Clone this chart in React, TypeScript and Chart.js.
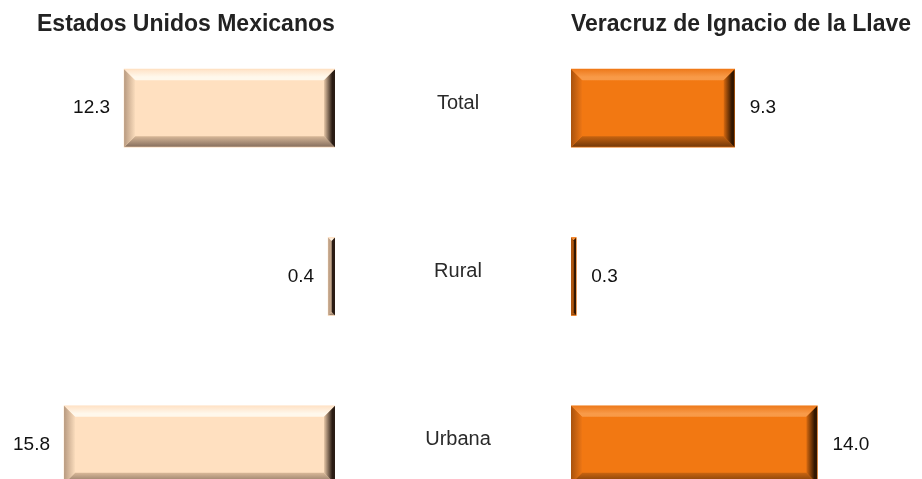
import React, { useEffect, useRef } from "react";
import { Chart, registerables } from "chart.js";

Chart.register(...registerables);

const categories = ["Total", "Rural", "Urbana"];
const nacionalValues = [12.3, 0.4, 15.8];
const veracruzValues = [9.3, 0.3, 14.0];
const leftTitle = "Estados Unidos Mexicanos";
const rightTitle = "Veracruz de Ignacio de la Llave";

const FONT = '"Liberation Sans", Arial, sans-serif';

type Palette = {
  base: string;
  topOuter: string;
  topInner: string;
  leftOuter: string;
  leftInner: string;
  rightInner: string;
  rightOuter: string;
  bottomInner: string;
  bottomOuter: string;
};

const peach: Palette = {
  base: "#FFE0C0",
  topOuter: "#FFE2C6",
  topInner: "#FFF8EC",
  leftOuter: "#B89A80",
  leftInner: "#FADCBC",
  rightInner: "#E8C8A8",
  rightOuter: "#2A1C14",
  bottomInner: "#D8B898",
  bottomOuter: "#8C7462",
};

const orange: Palette = {
  base: "#F27812",
  topOuter: "#EE7A1C",
  topInner: "#F89A48",
  leftOuter: "#A8520E",
  leftInner: "#EE7614",
  rightInner: "#D86A10",
  rightOuter: "#321600",
  bottomInner: "#C86410",
  bottomOuter: "#7A3C0A",
};

function bevelPlugin(pal: Palette, side: "left" | "right", showCats: boolean) {
  return {
    id: "bevel" + side,
    afterDatasetsDraw(chart: any) {
      const ctx = chart.ctx as CanvasRenderingContext2D;
      const meta = chart.getDatasetMeta(0);
      const values = chart.data.datasets[0].data as number[];
      meta.data.forEach((bar: any, i: number) => {
        const { x, y, base, height } = bar.getProps(["x", "y", "base", "height"], true);
        const x0 = Math.min(x, base);
        const x1 = Math.max(x, base);
        const y0 = y - height / 2;
        const y1 = y + height / 2;
        const w = x1 - x0;
        const h = y1 - y0;
        const B = 11;
        const b = Math.min(B, w / 2, h / 2);
        ctx.save();
        ctx.beginPath();
        ctx.rect(x0, y0, w, h);
        ctx.clip();
        // top
        let g = ctx.createLinearGradient(0, y0, 0, y0 + b);
        g.addColorStop(0, pal.topOuter);
        g.addColorStop(0.7, pal.topInner);
        g.addColorStop(1, pal.topInner);
        ctx.fillStyle = g;
        ctx.beginPath();
        ctx.moveTo(x0, y0);
        ctx.lineTo(x1, y0);
        ctx.lineTo(x1 - b, y0 + b);
        ctx.lineTo(x0 + b, y0 + b);
        ctx.closePath();
        ctx.fill();
        // bottom
        g = ctx.createLinearGradient(0, y1 - b, 0, y1);
        g.addColorStop(0, pal.bottomInner);
        g.addColorStop(0.9, pal.bottomOuter);
        g.addColorStop(1, pal.bottomInner);
        ctx.fillStyle = g;
        ctx.beginPath();
        ctx.moveTo(x0, y1);
        ctx.lineTo(x1, y1);
        ctx.lineTo(x1 - b, y1 - b);
        ctx.lineTo(x0 + b, y1 - b);
        ctx.closePath();
        ctx.fill();
        // left (gradient always spans full bevel width B)
        g = ctx.createLinearGradient(x0, 0, x0 + B, 0);
        g.addColorStop(0, pal.leftOuter);
        g.addColorStop(1, pal.leftInner);
        ctx.fillStyle = g;
        ctx.beginPath();
        ctx.moveTo(x0, y0);
        ctx.lineTo(x0 + b, y0 + b);
        ctx.lineTo(x0 + b, y1 - b);
        ctx.lineTo(x0, y1);
        ctx.closePath();
        ctx.fill();
        // right
        g = ctx.createLinearGradient(x1 - B, 0, x1, 0);
        g.addColorStop(0, pal.rightInner);
        g.addColorStop(0.75, pal.rightOuter);
        g.addColorStop(1, pal.rightOuter);
        ctx.fillStyle = g;
        ctx.beginPath();
        ctx.moveTo(x1, y0);
        ctx.lineTo(x1 - b, y0 + b);
        ctx.lineTo(x1 - b, y1 - b);
        ctx.lineTo(x1, y1);
        ctx.closePath();
        ctx.fill();
        ctx.restore();

        // value label
        ctx.save();
        ctx.font = `19px ${FONT}`;
        ctx.fillStyle = "#111111";
        ctx.textBaseline = "middle";
        const label = values[i].toFixed(1);
        if (side === "left") {
          ctx.textAlign = "right";
          ctx.fillText(label, x0 - 14, y);
        } else {
          ctx.textAlign = "left";
          ctx.fillText(label, x1 + 15, y);
        }
        ctx.restore();
      });
      if (showCats) {
        const yScale = chart.scales.y;
        ctx.save();
        ctx.font = `20px ${FONT}`;
        ctx.fillStyle = "#2a2a2a";
        ctx.textAlign = "center";
        ctx.textBaseline = "alphabetic";
        (chart.data.labels as string[]).forEach((c, i) => {
          const cy = yScale.getPixelForValue(i);
          ctx.fillText(c, chart.chartArea.left - 113, cy + 0.5);
        });
        ctx.restore();
      }
    },
  };
}

function makeChart(
  canvas: HTMLCanvasElement,
  values: number[],
  pal: Palette,
  side: "left" | "right",
  max: number,
  padLeft: number
) {
  return new Chart(canvas, {
    type: "bar",
    data: {
      labels: categories,
      datasets: [
        {
          data: values,
          backgroundColor: pal.base,
          borderWidth: 0,
          barThickness: 78,
        },
      ],
    },
    options: {
      indexAxis: "y",
      responsive: false,
      animation: false,
      layout: { padding: { left: padLeft, right: 0, top: 0, bottom: 0 } },
      plugins: { legend: { display: false }, tooltip: { enabled: false } },
      scales: {
        x: { display: false, min: 0, max, reverse: side === "left" },
        y: { display: false, offset: true },
      },
    },
    plugins: [bevelPlugin(pal, side, side === "right")],
  } as any);
}

export default function App() {
  const leftRef = useRef<HTMLCanvasElement>(null);
  const rightRef = useRef<HTMLCanvasElement>(null);

  useEffect(() => {
    const l = makeChart(leftRef.current!, nacionalValues, peach, "left", 335 / 17.15, 0);
    const r = makeChart(rightRef.current!, veracruzValues, orange, "right", 351 / 17.6, 237);
    return () => {
      l.destroy();
      r.destroy();
    };
  }, []);

  const titleStyle: React.CSSProperties = {
    position: "absolute",
    top: 12,
    fontFamily: FONT,
    fontWeight: "bold",
    fontSize: 23,
    lineHeight: "23px",
    color: "#222222",
    whiteSpace: "nowrap",
  };

  return (
    <div
      style={{
        position: "absolute",
        left: 0,
        top: 0,
        width: 922,
        height: 479,
        overflow: "hidden",
        background: "#ffffff",
      }}
    >
      <canvas
        ref={leftRef}
        width={335}
        height={505}
        style={{ position: "absolute", left: 0, top: 24 }}
      />
      <canvas
        ref={rightRef}
        width={588}
        height={505}
        style={{ position: "absolute", left: 334, top: 24 }}
      />
      <div style={{ ...titleStyle, left: 37 }}>{leftTitle}</div>
      <div style={{ ...titleStyle, left: 571 }}>{rightTitle}</div>
    </div>
  );
}
